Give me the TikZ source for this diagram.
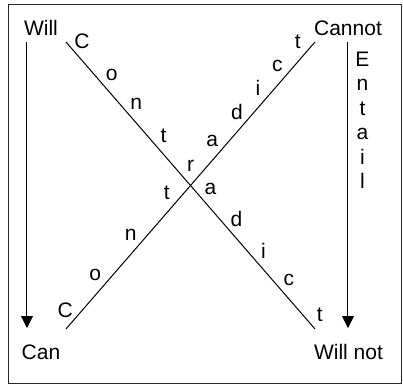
\documentclass[tikz,border=0pt]{standalone}
\usepackage{fontspec}
\setmainfont{Liberation Sans}
\usetikzlibrary{calc,arrows.meta}
\colorlet{frameGray}{black!85}
\tikzset{
    entail/.style={-{Triangle[length=6pt,width=6pt]}, line width=0.5pt},
    oppose/.style={line width=0.5pt}
}

\begin{document}
\begin{tikzpicture}[x=0.5pt, y=-0.5pt, every node/.style={font=\fontsize{10.5}{12}\selectfont, inner sep=0pt}]

        \useasboundingbox (0,0) rectangle (403,386);
        \draw[frameGray, line width=0.7pt] (8.5,4.5) rectangle (401.5,383.5);

        % corner words
        \node (will)    at (41,28)    {Will};
        \node (cannot)  at (348,28.5) {Cannot};
        \node (can)     at (41,352.5) {Can};
        \node (willnot) at (348.5,352) {Will not};

        % entailment arrows
        \coordinate (l1) at (27,42);
        \coordinate (l2) at (27,328);
        \coordinate (r1) at (348,42);
        \coordinate (r2) at (348,328);
        \draw[entail] (l1) -- (l2);
        \draw[entail] (r1) -- (r2);

        \foreach \l [count=\i] in {E,n,t,a,i,l}{
            \node[anchor=base] (e\i) at (362.5,{66+24.5*(\i-1)}) {\l};
        }

        % contradiction diagonals
        \coordinate (wl) at (66,42);
        \coordinate (wn) at (315,329);
        \coordinate (cn) at (66,329);
        \coordinate (cc) at (315,42);
        \draw[oppose] (wl) -- (wn);
        \draw[oppose] (cn) -- (cc);

        \foreach \l/\p [count=\i] in {C/0.026, o/0.145, n/0.244, t/0.354, r/0.462,
                                      a/0.542, d/0.646, i/0.755, c/0.857, t/0.981}{
            \node (p\i) at ($(wl)!\p!(wn)!6.3pt!90:(wn)$) {\l};
        }
        \foreach \l/\p [count=\i] in {C/0.036, o/0.157, n/0.299, t/0.444,
                                      a/0.627, d/0.726, i/0.810, c/0.888, t/0.970}{
            \node (q\i) at ($(cn)!\p!(cc)!6.5pt!90:(cc)$) {\l};
        }

    \end{tikzpicture}
\end{document}
